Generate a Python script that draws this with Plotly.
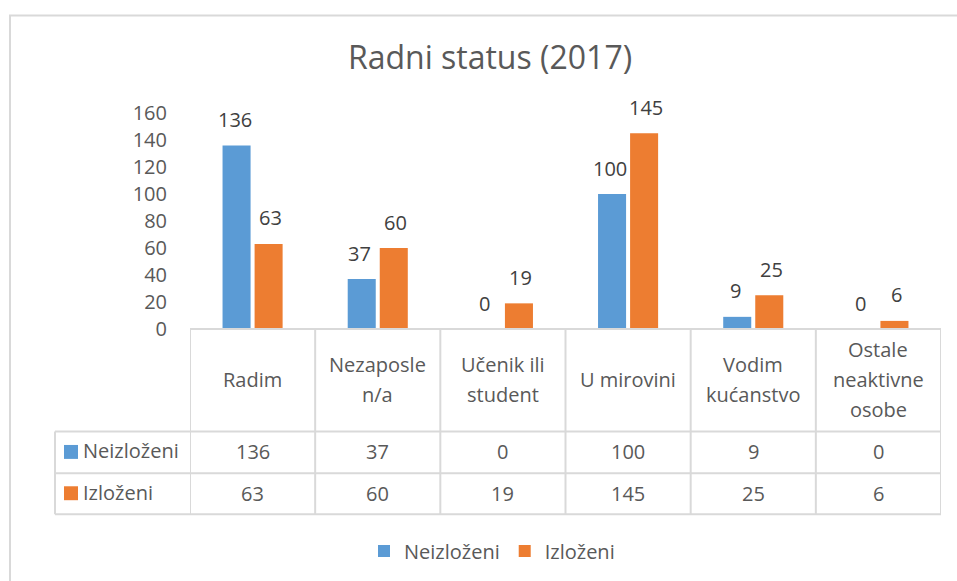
import plotly.graph_objects as go

# ---- data ----
categories = ["Radim", "Nezaposle\nn/a", "Učenik ili\nstudent", "U mirovini", "Vodim\nkućanstvo", "Ostale\nneaktivne\nosobe"]
series_names = ["Neizloženi", "Izloženi"]
neizlozeni = [136, 37, 0, 100, 9, 0]
izlozeni = [63, 60, 19, 145, 25, 6]
y_ticks = [0, 20, 40, 60, 80, 100, 120, 140, 160]
title_text = "Radni status (2017)"

colors = ["#5B9BD5", "#ED7D31"]
text_color = "#595959"
label_color = "#404040"
line_color = "#D9D9D9"
FONT = "Open Sans"

W, H = 957, 581
L, R, T, B = 190, 16, 113, 251
plot_w = W - L - R
plot_h = H - T - B


def px_x(px):
    return (px - L) / plot_w


def px_y(py):
    return (H - B - py) / plot_h


xs = list(range(len(categories)))
series_vals = [neizlozeni, izlozeni]
group_shift = [-18, 18]

fig = go.Figure()
annotations = []
for name, vals, col, dx in zip(series_names, series_vals, colors, group_shift):
    fig.add_trace(go.Bar(
        x=xs, y=vals, name=name, marker=dict(color=col, line=dict(width=0)),
    ))
    for x, v in zip(xs, vals):
        annotations.append(dict(x=x, xref="x", y=v, yref="y", text=str(v), showarrow=False,
                                xanchor="center", yanchor="middle", xshift=dx, yshift=26,
                                font=dict(family=FONT, size=20, color=label_color)))

shapes = []
ln = dict(color=line_color, width=2)
# chart border
shapes.append(dict(type="rect", xref="paper", yref="paper",
                   x0=px_x(10), x1=px_x(975), y0=px_y(600), y1=px_y(15), line=ln, layer="below"))

# table geometry
y_top, y_r1, y_r2, y_bot = 330, 433, 475, 516
x_left = 55
n = len(categories)
shapes.append(dict(type="line", xref="x", yref="paper", x0=-0.5, x1=n - 0.5,
                   y0=px_y(y_top), y1=px_y(y_top), line=ln))
for yy in (y_r1, y_r2, y_bot):
    shapes.append(dict(type="line", xref="paper", yref="paper", x0=px_x(x_left), x1=1,
                       y0=px_y(yy), y1=px_y(yy), line=ln))
for i in range(n + 1):
    shapes.append(dict(type="line", xref="x", yref="paper", x0=i - 0.5, x1=i - 0.5,
                       y0=px_y(y_top), y1=px_y(y_bot), line=ln))
shapes.append(dict(type="line", xref="paper", yref="paper", x0=px_x(x_left), x1=px_x(x_left),
                   y0=px_y(y_r1), y1=px_y(y_bot), line=ln))

# category labels (multi-line, 30px spacing)
cat_center = 381
for i, c in enumerate(categories):
    lines = c.split("\n")
    k = len(lines)
    for j, t in enumerate(lines):
        yy = cat_center + (j - (k - 1) / 2) * 30
        annotations.append(dict(x=i, xref="x", y=px_y(yy), yref="paper", text=t, showarrow=False,
                                xanchor="center", yanchor="middle",
                                font=dict(family=FONT, size=20, color=text_color)))

row_centers = [453.5, 495]
for name, vals, col, yc in zip(series_names, series_vals, colors, row_centers):
    shapes.append(dict(type="rect", xref="paper", yref="paper", x0=px_x(64), x1=px_x(78),
                       y0=px_y(yc + 7), y1=px_y(yc - 7), fillcolor=col, line=dict(width=0)))
    annotations.append(dict(x=px_x(81), xref="paper", y=px_y(yc - 1), yref="paper", text=name,
                            showarrow=False, xanchor="left", yanchor="middle",
                            font=dict(family=FONT, size=20, color=text_color)))
    for i, v in enumerate(vals):
        annotations.append(dict(x=i, xref="x", y=px_y(yc), yref="paper", text=str(v), showarrow=False,
                                xanchor="center", yanchor="middle",
                                font=dict(family=FONT, size=20, color=text_color)))

fig.update_layout(
    width=W, height=H,
    margin=dict(l=L, r=R, t=T, b=B),
    paper_bgcolor="white", plot_bgcolor="white",
    title=dict(text=title_text, x=px_x(490), xref="paper", xanchor="center",
               y=1 - 58 / H, yref="container", yanchor="middle",
               font=dict(family=FONT, size=32, color=text_color)),
    barmode="group", bargap=0.488, bargroupgap=0.125,
    xaxis=dict(range=[-0.5, n - 0.5], showticklabels=False, showgrid=False, zeroline=False,
               showline=False, ticks="", fixedrange=True),
    yaxis=dict(range=[0, 160], tickvals=y_ticks, showgrid=False, zeroline=False, showline=False,
               ticks="", ticklabelstandoff=22,
               tickfont=dict(family=FONT, size=20, color=text_color)),
    legend=dict(orientation="h", x=px_x(364), xanchor="left", y=px_y(551), yanchor="middle",
                font=dict(family=FONT, size=20, color=text_color), traceorder="normal",
                bgcolor="rgba(0,0,0,0)"),
    shapes=shapes, annotations=annotations,
    font=dict(family=FONT, color=text_color),
)

fig.write_html("out.html", config={"displayModeBar": False},
               post_script="document.body.style.margin='0';document.body.style.overflow='hidden';")
